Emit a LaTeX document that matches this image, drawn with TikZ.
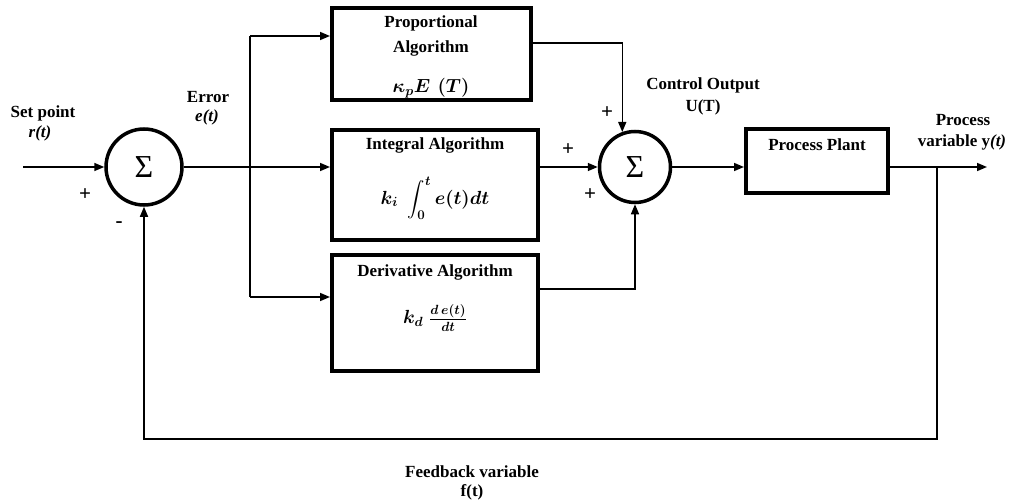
\RequirePackage{fix-cm}
\documentclass[tikz,border=0pt]{standalone}
\usepackage{fontspec}
\setmainfont{Liberation Serif}
\usepackage{amsmath}
\usetikzlibrary{arrows.meta,calc}
\begin{document}
\begin{tikzpicture}[x=1pt,y=-1pt,
  every node/.style={font=\fontsize{17}{19}\selectfont\bfseries, inner sep=0pt},
  blk/.style={draw, line width=4pt, rectangle},
  sumc/.style={draw, circle, line width=3.5pt, font=\fontsize{32}{34}\selectfont},
  mth/.style={font=\fontsize{19}{21}\selectfont\boldmath},
  conn/.style={line width=1.5pt},
  arr/.style={conn, -{Triangle[length=10pt,width=8pt]}},
  sgn/.style={font=\fontsize{21}{22}\selectfont\bfseries}]
\useasboundingbox (0,0) rectangle (1009,503);
% summing junctions
\node[sumc, minimum size=76pt] (sum1) at (144,167) {Σ};
\node[sumc, minimum size=71pt] (sum2) at (635,167) {Σ};
% blocks
\node[blk, minimum width=199pt, minimum height=92pt] (prop) at (431.5,54) {};
\node[blk, minimum width=206pt, minimum height=110pt] (integ) at (435,185) {};
\node[blk, minimum width=206pt, minimum height=116pt] (deriv) at (435,313) {};
\node[blk, minimum width=142pt, minimum height=64pt] (plant) at (817,161) {};
% block texts
\node (t1) at (431,23) {Proportional};
\node (t2) at (431,48) {Algorithm};
\node[mth] (t3) at (431,88) {$\kappa_{p}E\,\,(T)$};
\node (t4) at (435,145) {Integral Algorithm};
\node[mth] (t5) at (435,198) {$k_i\;\displaystyle\int_0^t e(t)dt$};
\node (t6) at (435,272) {Derivative Algorithm};
\node[mth] (t7) at (435,318) {$k_d\;\frac{d\,e(t)}{dt}$};
\node (t8) at (817,145) {Process Plant};
% coordinates
\coordinate (in) at (23,167);
\coordinate (br) at (250,167);
\coordinate (py) at (0,43);
\coordinate (ty) at (0,36);
\coordinate (dy) at (0,297);
\coordinate (oy) at (0,289);
\coordinate (out) at (987,167);
\coordinate (fb) at (937,167);
\coordinate (fy) at (0,439);
% connectors
\draw[arr] (in) -- (sum1.west);
\draw[conn] (sum1.east) -- (br);
\draw[arr] (br) -- (br -| integ.west);
\draw[conn] (br |- ty) -- (br |- dy);
\draw[arr] (br |- ty) -- (prop.west |- ty);
\draw[arr] (br |- dy) -- (deriv.west |- dy);
\draw[arr] (prop.east |- py) -- (sum2.110 |- py) -- (sum2.110);
\draw[arr] (integ.east |- sum2.west) -- (sum2.west);
\draw[arr] (deriv.east |- oy) -- (sum2.south |- oy) -- (sum2.south);
\draw[arr] (sum2.east) -- (sum2.east -| plant.west);
\draw[arr] (sum2.east -| plant.east) -- (out);
\draw[arr] (fb) -- (fb |- fy) -- (sum1.south |- fy) -- (sum1.south);
% labels
\node (l1) at (43,113) {Set point};
\node (l2) at (40,133) {\textit{r(t)}};
\node (l3) at (208,97) {Error};
\node (l4) at (207,117) {\textit{e(t)}};
\node[sgn] (s1) at (85,195) {+};
\node[sgn] (s2) at (119,225) {-};
\node[sgn] (s3) at (607,113) {+};
\node[sgn] (s4) at (568,150) {+};
\node[sgn] (s5) at (590,195) {+};
\node (l5) at (703,85) {Control Output};
\node (l6) at (703,107) {U(T)};
\node (l7) at (963,120) {Process};
\node (l8) at (962,142) {variable y\textit{(t)}};
\node (l9) at (472,472) {Feedback variable};
\node (l10) at (472,492) {f(t)};
\end{tikzpicture}
\end{document}
